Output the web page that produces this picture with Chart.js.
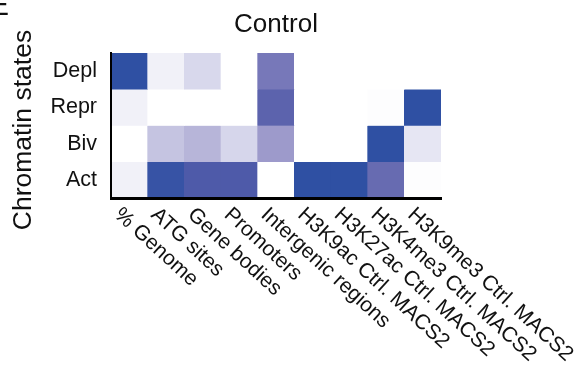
<!DOCTYPE html>
<html>
<head>
<meta charset="utf-8">
<script src="https://cdn.jsdelivr.net/npm/chart.js@4"></script>
<style>
  body { margin: 0; background: #fff; }
</style>
</head>
<body>
<canvas id="heatmapCanvas" width="582" height="367"></canvas>
<script>
/* --- chromatin state enrichment heatmap (Control) --- */

const columns = ['% Genome', 'ATG sites', 'Gene bodies', 'Promoters', 'Intergenic regions',
    'H3K9ac Ctrl. MACS2', 'H3K27ac Ctrl. MACS2', 'H3K4me3 Ctrl. MACS2', 'H3K9me3 Ctrl. MACS2'];

// rows, top to bottom
const states = ['Depl', 'Repr', 'Biv', 'Act'];

// normalised enrichment per column (0 = white, 1 = dark blue)
const deplValues = [1.00, 0.07, 0.19, 0.00, 0.56, 0.00, 0.00, 0.00, 0.00];
const reprValues = [0.07, 0.00, 0.00, 0.00, 0.72, 0.00, 0.00, 0.01, 1.00];
const bivValues  = [0.00, 0.26, 0.31, 0.20, 0.40, 0.00, 0.00, 1.00, 0.12];
const actValues  = [0.07, 0.95, 0.81, 0.81, 0.00, 1.00, 1.00, 0.65, 0.01];

const stateValues = [deplValues, reprValues, bivValues, actValues];

// white -> lavender -> blue colour scale
const colorStops = [
    [0.0, [255, 255, 255]],
    [0.2, [214, 214, 235]],
    [0.4, [157, 154, 203]],
    [0.6, [110, 112, 180]],
    [0.8, [80, 91, 169]],
    [1.0, [47, 80, 163]]
];

function valueColor(v) {
    for (let i = 1; i < colorStops.length; i++) {
        const [p1, c1] = colorStops[i];
        const [p0, c0] = colorStops[i - 1];
        if (v <= p1) {
            const t = (v - p0) / (p1 - p0);
            const c = c0.map((x, k) => Math.round(x + (c1[k] - x) * t));
            return `rgb(${c[0]}, ${c[1]}, ${c[2]})`;
        }
    }
    const last = colorStops[colorStops.length - 1][1];
    return `rgb(${last.join(',')})`;
}

const FONT = "'Liberation Sans', Arial, Helvetica, sans-serif";
const LABEL_ANGLE = 42.5 * Math.PI / 180;

// one floating-bar dataset per row; row 0 (Depl) sits at the top
const datasets = states.map((name, r) => {
    const level = states.length - 1 - r;
    return {
        label: name,
        data: stateValues[r].map(() => [level, level + 1]),
        backgroundColor: stateValues[r].map(valueColor),
        borderWidth: 0,
        barPercentage: 1,
        categoryPercentage: 1,
        grouped: false
    };
});

// draws the rotated column labels, the titles and the panel letter
const annotations = {
    id: 'annotations',
    afterDraw(chart) {
        const ctx = chart.ctx;
        const area = chart.chartArea;
        const xScale = chart.scales.x;

        ctx.save();
        ctx.fillStyle = '#111';
        ctx.font = `21px ${FONT}`;
        ctx.textAlign = 'left';
        ctx.textBaseline = 'alphabetic';
        columns.forEach((label, i) => {
            const x = xScale.getPixelForValue(i) - 16;
            const y = area.bottom + 18;
            ctx.save();
            ctx.translate(x, y);
            ctx.rotate(LABEL_ANGLE);
            ctx.fillText(label, 0, 0);
            ctx.restore();
        });

        ctx.textAlign = 'center';
        ctx.textBaseline = 'middle';

        // y axis title
        ctx.font = `26.5px ${FONT}`;
        ctx.save();
        ctx.translate(24, 130);
        ctx.rotate(-Math.PI / 2);
        ctx.fillText('Chromatin states', 0, 0);
        ctx.restore();

        ctx.font = `26px ${FONT}`;
        ctx.textBaseline = 'alphabetic';
        ctx.fillText('Control', (area.left + area.right) / 2, 32);

        ctx.font = `30px ${FONT}`;
        ctx.textAlign = 'right';
        ctx.fillText('E', 9, 15);
        ctx.restore();
    }
};

window.heatmapChart = new Chart(document.getElementById('heatmapCanvas'), {
    type: 'bar',
    data: {
        labels: columns,
        datasets: datasets
    },
    options: {
        responsive: false,
        animation: false,
        layout: {
            padding: { top: 53, right: 141, left: 0, bottom: 0 }
        },
        plugins: {
            legend: { display: false },
            title: { display: false },
            tooltip: { enabled: false }
        },
        scales: {
            x: {
                offset: true,
                grid: { display: false, drawTicks: false },
                border: { display: true, color: '#000', width: 3, z: 1 },
                ticks: { display: false },
                afterFit: scale => { scale.height = 169; }
            },
            y: {
                min: 0,
                max: 4,
                grid: { display: false, drawTicks: false },
                border: { display: true, color: '#000', width: 2, z: 1 },
                afterBuildTicks: scale => {
                    scale.ticks = states.map((s, r) => ({ value: states.length - 1 - r + 0.5 }));
                },
                ticks: {
                    color: '#111',
                    padding: 14,
                    font: { family: FONT, size: 21.5 },
                    callback: value => states[states.length - 1 - Math.floor(value)]
                },
                afterFit: scale => { scale.width = 111; }
            }
        }
    },
    plugins: [annotations]
});
</script>
</body>
</html>
